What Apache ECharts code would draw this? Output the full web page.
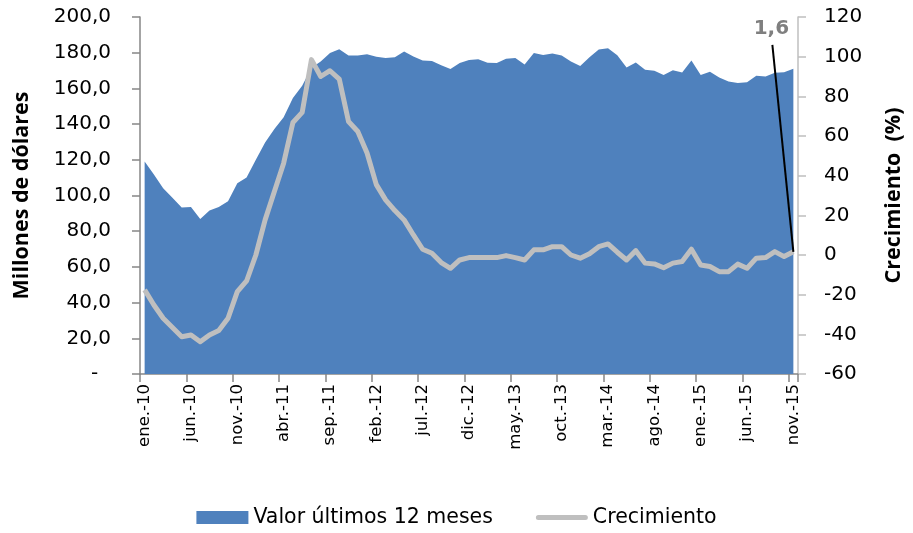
<!DOCTYPE html>
<html>
<head>
<meta charset="utf-8">
<script src="https://cdn.jsdelivr.net/npm/echarts@6/dist/echarts.min.js"></script>
<style>html,body{margin:0;padding:0;background:#fff}#c{width:913px;height:533px}</style>
</head>
<body>
<div id="c"></div>
<script>
var months = ['ene.','feb.','mar.','abr.','may.','jun.','jul.','ago.','sep.','oct.','nov.','dic.'];
var years = ['10','11','12','13','14','15'];
var categories = [];
for (var y = 0; y < years.length; y++) {
  for (var m = 0; m < 12; m++) {
    if (y === 5 && m === 11) break;
    categories.push(months[m] + '-' + years[y]);
  }
}
var valor = [119.0,111.7,104.1,98.7,93.3,93.6,86.9,91.6,93.5,96.8,106.9,110.1,
  120.0,129.7,137.2,143.9,154.6,161.5,171.5,175.1,179.8,182.0,178.5,178.5,
  179.2,177.8,177.0,177.5,180.7,177.9,175.7,175.3,173.0,170.8,174.2,175.9,
  176.4,174.4,174.2,176.6,177.0,173.4,179.8,178.7,179.6,178.5,175.1,172.5,
  177.5,181.8,182.5,178.6,171.7,174.5,170.5,169.9,167.5,170.1,168.9,175.7,
  167.5,169.3,166.1,163.9,163.0,163.5,167.1,166.7,168.8,169.1,171.0];
var crecimiento = [-17.6,-25.2,-31.9,-36.6,-41.2,-40.3,-43.7,-40.3,-38.1,-31.9,-18.5,-13.1,
  0.0,17.7,32.0,46.3,66.8,71.9,98.5,90.0,92.9,88.7,67.3,62.3,
  51.4,35.5,27.8,22.4,17.7,10.1,2.9,0.9,-3.8,-6.7,-2.5,-1.3,
  -1.3,-1.3,-1.3,-0.3,-1.3,-2.5,2.6,2.6,4.2,4.2,0.0,-1.6,
  0.6,4.2,5.6,1.4,-2.5,2.2,-4.1,-4.5,-6.4,-4.1,-3.3,2.9,
  -5.0,-5.8,-8.4,-8.4,-4.6,-6.7,-1.6,-1.3,1.7,-0.8,1.6];
var seriesNames = ['Valor últimos 12 meses', 'Crecimiento'];
var leftAxisName = 'Millones de dólares';
var rightAxisName = 'Crecimiento  (%)';
var lastLabel = '1,6';

var lastIdx = crecimiento.length - 1;

var chart = echarts.init(document.getElementById('c'), null, { renderer: 'canvas' });
var font = 'DejaVu Sans';
var lineIcon = 'path://M0,0 L0.01,0 L0,0.01 Z M52,13 L51.99,13 L52,12.99 Z M2.5,4 L49.5,4 A2.5,2.5 0 0 1 49.5,9 L2.5,9 A2.5,2.5 0 0 1 2.5,4 Z';
chart.setOption({
  animation: false,
  textStyle: { fontFamily: font, color: '#000' },
  grid: { left: 140, right: 113, top: 17, bottom: 159, containLabel: false },
  legend: {
    bottom: 0,
    left: 'center',
    itemWidth: 52,
    itemHeight: 13,
    itemGap: 43,
    textStyle: { fontFamily: font, fontSize: 20.5, color: '#000' },
    data: [
      { name: seriesNames[0], icon: 'rect' },
      { name: seriesNames[1], icon: lineIcon, itemStyle: { color: '#bfbfbf' } }
    ]
  },
  xAxis: {
    type: 'category',
    data: categories,
    boundaryGap: true,
    axisLine: { lineStyle: { color: '#868686', width: 1.5 } },
    axisTick: { show: true, interval: 4, length: 8, alignWithLabel: false, lineStyle: { color: '#868686', width: 1.5 } },
    axisLabel: { interval: 4, rotate: 90, margin: 10, fontFamily: font, fontSize: 16.5, color: '#000' },
    splitLine: { show: false }
  },
  yAxis: [{
    type: 'value',
    min: 0, max: 200, interval: 20,
    position: 'left',
    name: leftAxisName,
    nameLocation: 'middle',
    nameRotate: 90,
    nameGap: 107,
    nameTextStyle: { fontFamily: 'Open Sans', fontWeight: 'bold', fontSize: 21.5, color: '#000' },
    axisLine: { show: true, lineStyle: { color: '#868686', width: 1.5 } },
    axisTick: { show: true, length: 8, lineStyle: { color: '#868686', width: 1.5 } },
    axisLabel: {
      margin: 29, fontFamily: font, fontSize: 20, color: '#000',
      formatter: function (v) { return v === 0 ? '-  ' : v.toFixed(1).replace('.', ','); }
    },
    splitLine: { show: false }
  }, {
    type: 'value',
    min: -60, max: 120, interval: 20,
    position: 'right',
    name: rightAxisName,
    nameLocation: 'middle',
    nameRotate: 90,
    nameGap: 85,
    nameTextStyle: { fontFamily: 'Open Sans', fontWeight: 'bold', fontSize: 21.5, color: '#000' },
    axisLine: { show: true, lineStyle: { color: '#bfbfbf', width: 1.5 } },
    axisTick: { show: true, length: 8, lineStyle: { color: '#bfbfbf', width: 1.5 } },
    axisLabel: { margin: 26, fontFamily: font, fontSize: 20, color: '#000' },
    splitLine: { show: false }
  }],
  series: [{
    name: seriesNames[0],
    type: 'line',
    yAxisIndex: 0,
    data: valor,
    showSymbol: false,
    symbol: 'none',
    itemStyle: { color: '#4f81bd' },
    lineStyle: { width: 0, color: '#4f81bd' },
    areaStyle: { color: '#4f81bd', opacity: 1 },
    z: 1
  }, {
    name: seriesNames[1],
    type: 'line',
    yAxisIndex: 1,
    data: crecimiento,
    showSymbol: false,
    symbol: 'none',
    itemStyle: { color: '#bfbfbf' },
    lineStyle: { width: 5, color: '#bfbfbf', join: 'round' },
    z: 3
  }]
});

// Annotation for the last value, anchored through the chart's own scales
var pt = chart.convertToPixel({ xAxisIndex: 0, yAxisIndex: 1 }, [lastIdx, crecimiento[lastIdx]]);
chart.setOption({
  graphic: [{
    type: 'line',
    z: 10,
    shape: { x1: pt[0] - 21, y1: pt[1] - 207, x2: pt[0], y2: pt[1] },
    style: { stroke: '#000', lineWidth: 2 }
  }, {
    type: 'text',
    z: 10,
    x: pt[0] - 22,
    y: pt[1] - 223,
    style: {
      text: lastLabel, fill: '#7f7f7f', font: 'bold 20px "DejaVu Sans"',
      textAlign: 'center', textVerticalAlign: 'middle'
    }
  }]
});
</script>
</body>
</html>
